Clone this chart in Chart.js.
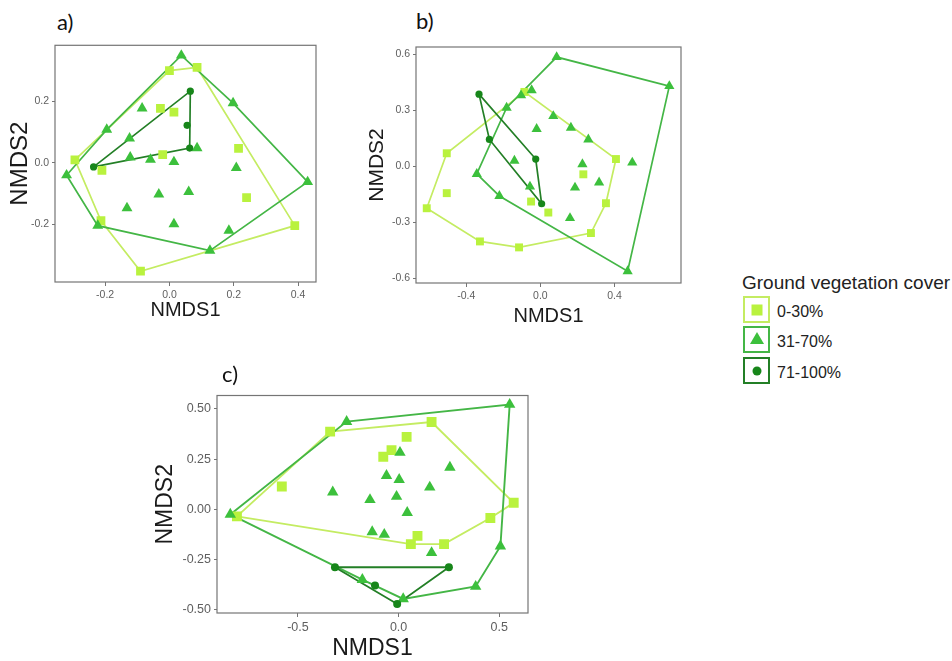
<!DOCTYPE html>
<html><head><meta charset="utf-8">
<script src="https://cdn.jsdelivr.net/npm/chart.js@4.4.0/dist/chart.umd.min.js"></script>
<style>
html,body{margin:0;padding:0;background:#fff}
body{width:952px;height:661px;position:relative;overflow:hidden;font-family:'Liberation Sans',Arial,sans-serif}
canvas{position:absolute}
.plab{position:absolute;font-family:Lato,'Open Sans',sans-serif;font-size:22px;line-height:24px;color:#111}
.leg{position:absolute;color:#222;white-space:nowrap}
.key{position:absolute;width:27px;height:27px;box-sizing:border-box;border:2px solid #000;background:#fff}
.key span{position:absolute;left:50%;top:50%;transform:translate(-50%,-50%)}
</style></head><body>
<canvas id="ca" width="330" height="300" style="left:0px;top:36px"></canvas>
<canvas id="cb" width="340" height="300" style="left:355px;top:36px"></canvas>
<canvas id="cc" width="400" height="276" style="left:140px;top:385px"></canvas>
<div class="plab" id="la" style="left:57px;top:10px"></div>
<div class="plab" id="lb" style="left:416px;top:9px"></div>
<div class="plab" id="lc" style="left:222px;top:362px"></div>
<div id="legend"></div>
<script>
// ---------- data ----------
const groupNames = ['0-30%', '31-70%', '71-100%'];
const legendTitle = 'Ground vegetation cover';
const xTitle = 'NMDS1';
const yTitle = 'NMDS2';
const panelNames = ['a)', 'b)', 'c)'];

// panel a
const aSquares = [[0.0,0.30],[0.086,0.31],[-0.028,0.177],[0.014,0.165],[-0.294,0.01],[-0.21,-0.024],[-0.021,0.027],[0.215,0.047],[0.24,-0.113],[-0.213,-0.188],[0.39,-0.204],[-0.09,-0.352]];
const aTriangles = [[0.037,0.349],[0.198,0.194],[0.43,-0.062],[0.126,-0.285],[-0.223,-0.204],[-0.32,-0.04],[-0.195,0.108],[-0.085,0.177],[-0.124,0.08],[-0.122,0.018],[-0.059,0.011],[0.014,0.003],[0.086,0.048],[0.208,-0.016],[-0.033,-0.102],[0.06,-0.094],[-0.132,-0.147],[0.014,-0.199],[0.185,-0.22]];
const aCircles = [[0.065,0.233],[0.055,0.122],[0.063,0.048],[-0.236,-0.013]];
const aTicksX = [-0.2, 0.0, 0.2, 0.4];
const aTickLabelsX = ['-0.2', '0.0', '0.2', '0.4'];
const aTicksY = [-0.2, 0.0, 0.2];
const aTickLabelsY = ['-0.2', '0.0', '0.2'];
const aRangeX = [-0.356, 0.456];
const aRangeY = [-0.387, 0.382];

// panel b
const bSquares = [[-0.086,0.399],[-0.505,0.07],[-0.613,-0.225],[-0.505,-0.144],[-0.326,-0.403],[-0.115,-0.435],[0.273,-0.358],[0.354,-0.198],[0.408,0.039],[0.232,-0.043],[-0.05,-0.189],[0.043,-0.248]];
const bTriangles = [[0.088,0.586],[0.696,0.43],[0.471,-0.563],[-0.221,-0.159],[-0.343,-0.041],[-0.182,0.314],[-0.104,0.381],[-0.047,0.408],[0.07,0.269],[-0.02,0.2],[0.165,0.207],[0.259,0.144],[-0.14,0.03],[0.227,0.011],[0.496,0.02],[0.187,-0.114],[0.317,-0.087],[-0.056,-0.109],[0.16,-0.278]];
const bCircles = [[-0.331,0.387],[-0.275,0.144],[-0.025,0.039],[0.007,-0.201]];
const bTicksX = [-0.4, 0.0, 0.4];
const bTickLabelsX = ['-0.4', '0.0', '0.4'];
const bTicksY = [-0.6, -0.3, 0.0, 0.3, 0.6];
const bTickLabelsY = ['-0.6', '-0.3', '0.0', '0.3', '0.6'];
const bRangeX = [-0.671, 0.759];
const bRangeY = [-0.626, 0.640];

// panel c
const cSquares = [[-0.34,0.387],[0.164,0.435],[0.572,0.033],[0.456,-0.043],[0.226,-0.173],[0.061,-0.173],[0.094,-0.132],[-0.803,-0.035],[0.04,0.361],[-0.035,0.295],[-0.076,0.262],[-0.58,0.114]];
const cTriangles = [[-0.836,-0.025],[-0.258,0.437],[0.552,0.522],[0.506,-0.183],[0.383,-0.384],[0.023,-0.446],[-0.18,-0.35],[0.007,0.283],[0.255,0.209],[-0.06,0.168],[0.003,0.148],[-0.327,0.086],[0.155,0.11],[-0.142,0.048],[-0.01,0.064],[0.043,-0.016],[-0.131,-0.112],[-0.071,-0.125],[0.164,-0.216]];
const cCircles = [[-0.316,-0.288],[-0.117,-0.379],[-0.007,-0.471],[0.25,-0.288]];
const cTicksX = [-0.5, 0.0, 0.5];
const cTickLabelsX = ['-0.5', '0.0', '0.5'];
const cTicksY = [-0.5, -0.25, 0.0, 0.25, 0.5];
const cTickLabelsY = ['-0.50', '-0.25', '0.00', '0.25', '0.50'];
const cRangeX = [-0.902, 0.643];
const cRangeY = [-0.516, 0.567];

// ---------- styles ----------
const markerColors = ['#b9f23e', '#3cc03c', '#17861a'];
const lineColors = ['#c4ec62', '#44b646', '#237f26'];
const pointStyles = ['rect', 'triangle', 'circle'];
const FONT = "'Liberation Sans', Arial, sans-serif";

function hull(pts) {
  const p = pts.map(([x, y]) => ({x, y})).sort((a, b) => a.x - b.x || a.y - b.y);
  const cross = (o, a, b) => (a.x - o.x) * (b.y - o.y) - (a.y - o.y) * (b.x - o.x);
  const lower = [], upper = [];
  for (const q of p) { while (lower.length >= 2 && cross(lower[lower.length-2], lower[lower.length-1], q) <= 0) lower.pop(); lower.push(q); }
  for (let i = p.length - 1; i >= 0; i--) { const q = p[i]; while (upper.length >= 2 && cross(upper[upper.length-2], upper[upper.length-1], q) <= 0) upper.pop(); upper.push(q); }
  upper.pop(); lower.pop();
  const h = lower.concat(upper); h.push(h[0]);
  return h;
}

const boxPlugin = {
  id: 'box',
  afterDraw(chart) {
    const {ctx, chartArea: a} = chart;
    ctx.save();
    ctx.strokeStyle = '#757575';
    ctx.lineWidth = 1.2;
    ctx.strokeRect(a.left, a.top, a.right - a.left, a.bottom - a.top);
    ctx.restore();
  }
};

function makePanel(id, L, groups, tx, tlx, ty, tly, rx, ry) {
  const datasets = [];
  groups.forEach((g, i) => {
    datasets.push({
      data: hull(g), showLine: true, pointRadius: 0, borderColor: lineColors[i],
      borderWidth: L.lw, fill: false, tension: 0, order: 10 - i
    });
  });
  groups.forEach((g, i) => {
    datasets.push({
      data: g.map(([x, y]) => ({x, y})), showLine: false, pointStyle: pointStyles[i],
      pointRadius: L.r[i], pointBorderWidth: 0, backgroundColor: markerColors[i],
      borderColor: markerColors[i], order: 3 - i
    });
  });
  const canvasLeft = L.cl, canvasTop = L.ct, W = L.w, H = L.h;
  new Chart(document.getElementById(id), {
    type: 'scatter',
    data: {datasets},
    plugins: [boxPlugin],
    options: {
      responsive: false, animation: false, devicePixelRatio: 1,
      events: [],
      layout: {padding: {left: 0, top: L.box[1] - canvasTop, right: canvasLeft + W - L.box[2],
        bottom: canvasTop + H - (L.xt + L.fx / 2)}},
      plugins: {legend: {display: false}, tooltip: {enabled: false}},
      scales: {
        x: {
          type: 'linear', min: rx[0], max: rx[1],
          afterBuildTicks: s => { s.ticks = tx.map(v => ({value: v})); },
          afterFit: s => { s.height = L.xt + L.fx / 2 - L.box[3]; },
          ticks: {autoSkip: false, maxRotation: 0, padding: 3, color: '#5f5f5f',
            font: {size: L.tf, family: FONT}, callback: (v, i) => tlx[i]},
          grid: {display: true, drawOnChartArea: false, drawTicks: true, tickLength: 4, color: '#757575'},
          border: {display: false},
          title: {display: true, text: xTitle, color: '#1a1a1a', padding: 0,
            font: {size: L.fx, family: FONT, lineHeight: 1}}
        },
        y: {
          type: 'linear', min: ry[0], max: ry[1],
          afterBuildTicks: s => { s.ticks = ty.map(v => ({value: v})); },
          afterFit: s => { s.width = L.box[0] - canvasLeft; },
          ticks: {autoSkip: false, padding: 3, color: '#5f5f5f',
            font: {size: L.tf, family: FONT}, callback: (v, i) => tly[i]},
          grid: {display: true, drawOnChartArea: false, drawTicks: true, tickLength: 3, color: '#757575'},
          border: {display: false},
          title: {display: true, text: yTitle, color: '#1a1a1a',
            padding: {top: L.yt - canvasLeft - L.fy / 2, bottom: 0},
            font: {size: L.fy, family: FONT, lineHeight: 1}}
        }
      }
    }
  });
}

makePanel('ca', {cl: 0, ct: 36, w: 330, h: 300, box: [55, 43, 316, 282], xt: 310, yt: 20, fx: 20, fy: 24, tf: 10.5, lw: 1.7, r: [6.2, 6.3, 3.6]},
  [aSquares, aTriangles, aCircles], aTicksX, aTickLabelsX, aTicksY, aTickLabelsY, aRangeX, aRangeY);
makePanel('cb', {cl: 355, ct: 36, w: 340, h: 300, box: [416, 47, 681, 283], xt: 316, yt: 377, fx: 20, fy: 21, tf: 10.5, lw: 1.7, r: [5.6, 5.9, 3.6]},
  [bSquares, bTriangles, bCircles], bTicksX, bTickLabelsX, bTicksY, bTickLabelsY, bRangeX, bRangeY);
makePanel('cc', {cl: 140, ct: 385, w: 400, h: 276, box: [217, 394, 528, 613], xt: 649, yt: 166, fx: 23, fy: 23, tf: 12.5, lw: 1.9, r: [7.0, 6.6, 4.0]},
  [cSquares, cTriangles, cCircles], cTicksX, cTickLabelsX, cTicksY, cTickLabelsY, cRangeX, cRangeY);

document.getElementById('la').textContent = panelNames[0];
document.getElementById('lb').textContent = panelNames[1];
document.getElementById('lc').textContent = panelNames[2];

// ---------- legend ----------
const leg = document.getElementById('legend');
const t = document.createElement('div');
t.className = 'leg'; t.style.left = '742px'; t.style.top = '272px'; t.style.fontSize = '19px';
t.textContent = legendTitle; leg.appendChild(t);
const keyTops = [296, 326, 357];
const shapes = [
  c => `<span style="width:11px;height:11px;background:${c}"></span>`,
  c => `<span style="width:0;height:0;border-left:7px solid transparent;border-right:7px solid transparent;border-bottom:12px solid ${c};top:45%"></span>`,
  c => `<span style="width:9px;height:9px;border-radius:50%;background:${c}"></span>`
];
groupNames.forEach((g, i) => {
  const k = document.createElement('div');
  k.className = 'key'; k.style.left = '743px'; k.style.top = keyTops[i] + 'px';
  k.style.borderColor = lineColors[i];
  k.innerHTML = shapes[i](markerColors[i]);
  leg.appendChild(k);
  const l = document.createElement('div');
  l.className = 'leg'; l.style.left = '777px'; l.style.top = (keyTops[i] + 2) + 'px';
  l.style.fontSize = '16px'; l.style.lineHeight = '27px';
  l.textContent = g; leg.appendChild(l);
});
</script>
</body></html>
